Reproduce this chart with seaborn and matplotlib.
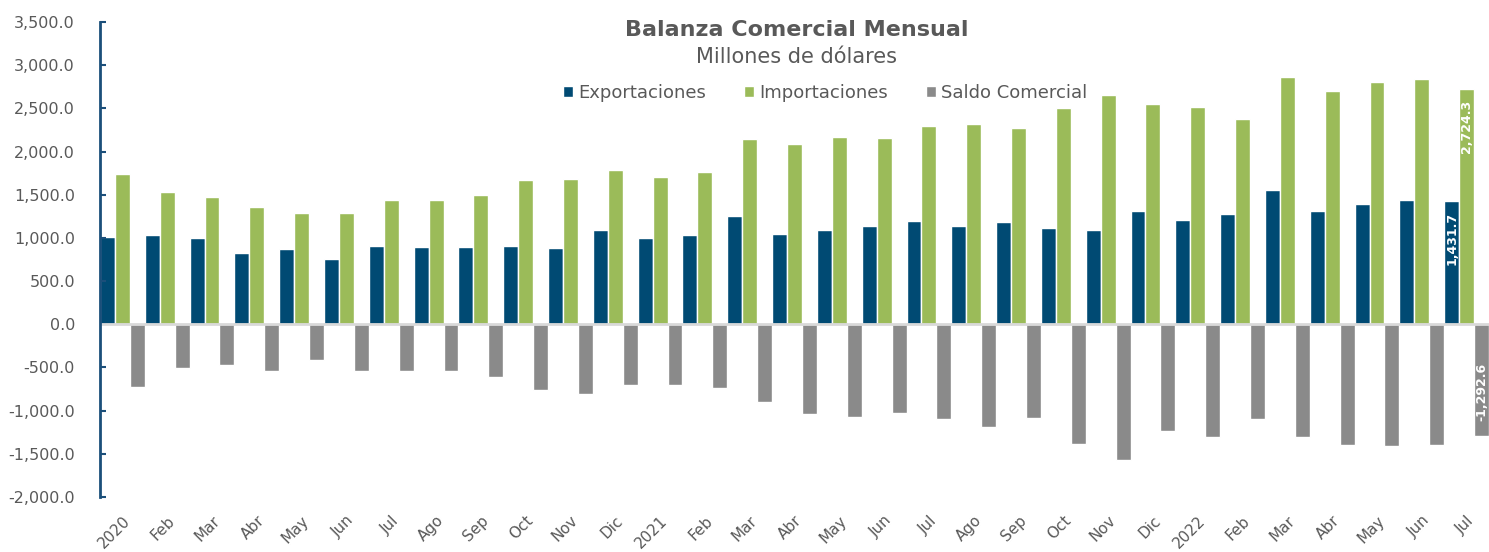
import pandas as pd
import matplotlib.pyplot as plt
import seaborn as sns

# Datos mensuales (millones de dólares), ene-2020 a jul-2022
meses = ['2020', 'Feb', 'Mar', 'Abr', 'May', 'Jun', 'Jul', 'Ago', 'Sep', 'Oct', 'Nov', 'Dic',
         '2021', 'Feb', 'Mar', 'Abr', 'May', 'Jun', 'Jul', 'Ago', 'Sep', 'Oct', 'Nov', 'Dic',
         '2022', 'Feb', 'Mar', 'Abr', 'May', 'Jun', 'Jul']

exportaciones = [1005, 1031, 1000, 823, 877, 761, 908, 896, 889, 912, 885, 1086,
                 1004, 1028, 1252, 1051, 1089, 1136, 1194, 1136, 1186, 1116, 1086, 1310,
                 1211, 1275, 1551, 1308, 1396, 1437, 1431.7]

importaciones = [1735, 1530, 1468, 1360, 1294, 1294, 1441, 1441, 1495, 1669, 1684, 1781,
                 1704, 1758, 2151, 2082, 2163, 2156, 2291, 2318, 2277, 2507, 2654, 2546,
                 2515, 2372, 2859, 2700, 2808, 2835, 2724.3]

saldo = [-726, -502, -467, -541, -417, -537, -537, -545, -606, -761, -803, -699,
         -703, -734, -904, -1035, -1074, -1024, -1093, -1190, -1089, -1391, -1576, -1240,
         -1310, -1097, -1310, -1394, -1414, -1398, -1292.6]

series = ['Exportaciones', 'Importaciones', 'Saldo Comercial']
colores = ['#004A73', '#9BBB59', '#8A8A8A']

df = pd.DataFrame({'periodo': range(len(meses)),
                   'Exportaciones': exportaciones,
                   'Importaciones': importaciones,
                   'Saldo Comercial': saldo})
df_long = df.melt(id_vars='periodo', var_name='serie', value_name='valor')

sns.set_style('white')
plt.rcParams['font.family'] = ['DejaVu Sans']
gris = '#595959'

fig = plt.figure(figsize=(14.89, 5.52), dpi=100)
ax = fig.add_axes([100 / 1489, 55 / 552, 1 - 100 / 1489, 475 / 552])

sns.barplot(data=df_long, x='periodo', y='valor', hue='serie', hue_order=series,
            palette=colores, width=1, saturation=1, errorbar=None, ax=ax)

# Ejes
ax.set_ylim(-2000, 3500)
ax.set_xlim(-0.5, len(meses) - 0.5)
ax.set_yticks(range(-2000, 3501, 500))
ax.set_yticklabels([f'{v:,.1f}' for v in range(-2000, 3501, 500)])
ax.set_xticks(range(len(meses)))
ax.set_xticklabels(meses, rotation=45, ha='right', rotation_mode='anchor')
ax.set_xlabel('')
ax.set_ylabel('')
ax.set_axisbelow(False)
ax.tick_params(axis='y', left=True, direction='in', length=4, width=1.5, color='#1B4F7A',
               labelsize=11.5, labelcolor=gris, pad=18)
ax.tick_params(axis='x', bottom=False, labelsize=11, labelcolor=gris, pad=8)
for lado in ['top', 'right', 'bottom']:
    ax.spines[lado].set_visible(False)
ax.spines['left'].set_color('#1B4F7A')
ax.spines['left'].set_linewidth(2)
ax.spines['left'].set_zorder(6)
ax.axhline(0, color='#D9D9D9', linewidth=2, zorder=5)

# Etiquetas del último mes
ultimo = len(meses) - 1
ax.annotate(f'{exportaciones[-1]:,.1f}', xy=(ultimo - 1 / 3, exportaciones[-1]), xytext=(0, -8),
            textcoords='offset points', rotation=90, ha='center', va='top',
            color='white', fontsize=9, fontweight='bold')
ax.annotate(f'{importaciones[-1]:,.1f}', xy=(ultimo, importaciones[-1]), xytext=(0, -8),
            textcoords='offset points', rotation=90, ha='center', va='top',
            color='white', fontsize=9, fontweight='bold')
ax.annotate(f'{saldo[-1]:,.1f}', xy=(ultimo + 1 / 3, saldo[-1]), xytext=(0, 11),
            textcoords='offset points', rotation=90, ha='center', va='bottom',
            color='white', fontsize=9, fontweight='bold')

# Leyenda
ax.legend(loc='center', bbox_to_anchor=(825 / 1489, 1 - 93 / 552),
          bbox_transform=fig.transFigure, ncol=3, frameon=False,
          fontsize=13, labelcolor=gris, handlelength=0.55, handleheight=0.55,
          handletextpad=0.3, columnspacing=2.1)

# Títulos
fig.text(797 / 1489, 1 - 30 / 552, 'Balanza Comercial Mensual', ha='center', va='center',
         fontsize=16, fontweight='bold', color=gris)
fig.text(797 / 1489, 1 - 57 / 552, 'Millones de dólares', ha='center', va='center',
         fontsize=15, color=gris)

plt.savefig('out.png', dpi=100)
plt.close()
